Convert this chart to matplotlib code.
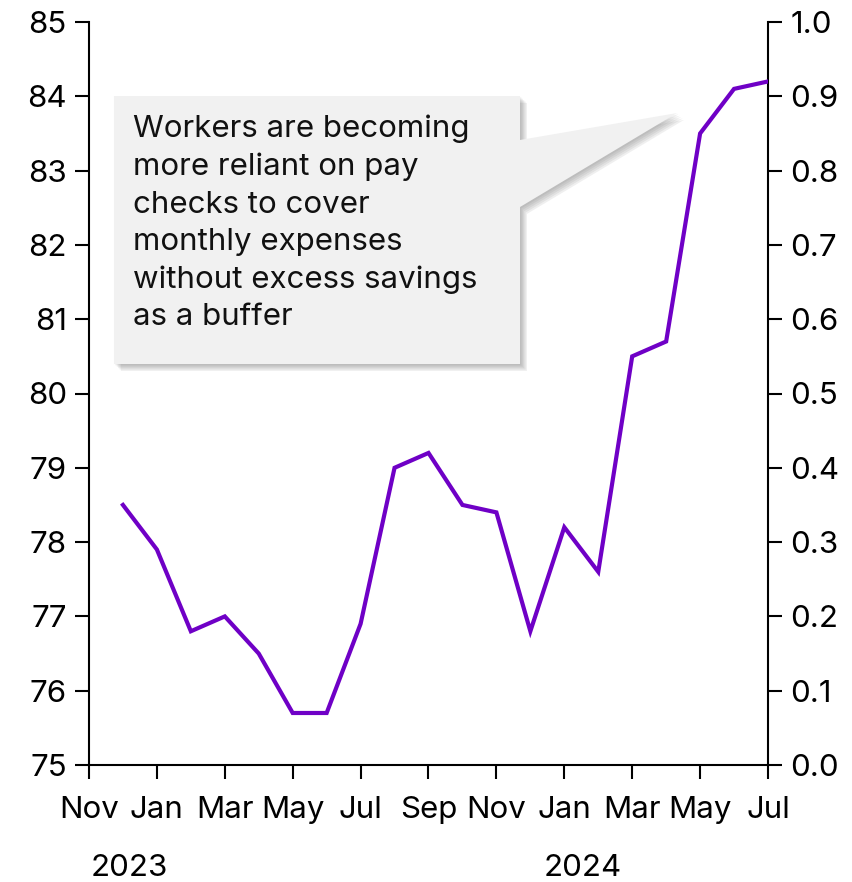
import matplotlib
matplotlib.use('Agg')
import matplotlib.pyplot as plt
import matplotlib.patheffects as pe
from matplotlib.patches import Polygon

plt.rcParams['font.family'] = ['Inter', 'DejaVu Sans']

# months counted from Nov 2022 (0) to Jul 2024 (20)
months = list(range(1, 21))
values = [78.5, 77.9, 76.8, 77.0, 76.5, 75.7, 75.7, 76.9, 79.0, 79.2,
          78.5, 78.4, 76.8, 78.2, 77.6, 80.5, 80.7, 83.5, 84.1, 84.2]
tick_pos = list(range(0, 21, 2))
tick_labels = ['Nov', 'Jan', 'Mar', 'May', 'Jul', 'Sep', 'Nov', 'Jan', 'Mar', 'May', 'Jul']
years = ['2023', '2024']
year_pos = [1.2, 14.55]
note = ('Workers are becoming\nmore reliant on pay\nchecks to cover\n'
        'monthly expenses\nwithout excess savings\nas a buffer')

LINE = '#6f00c6'
FS = 22.5

fig = plt.figure(figsize=(8.53, 8.82), dpi=100)
ax = fig.add_axes([89 / 853, 117 / 882, 679 / 853, 743 / 882])
ax2 = ax.twinx()

ax.plot(months, values, color=LINE, lw=3, solid_joinstyle='miter', zorder=5)
ax.set_xlim(0, 20)
ax.set_ylim(75, 85)
ax.set_yticks(range(75, 86))
ax.set_xticks(tick_pos)
ax.set_xticklabels(tick_labels)
ax2.set_ylim(0, 1)
ax2.set_yticks([i / 10 for i in range(11)])
ax2.set_yticklabels([f'{i / 10:.1f}' for i in range(11)])

for a in (ax, ax2):
    a.spines['top'].set_visible(False)
    for s in a.spines.values():
        s.set_linewidth(1.5)
    a.tick_params(labelsize=FS, width=1.5, length=10, direction='out', pad=6)
ax.tick_params(axis='x', pad=12)
ax2.spines['left'].set_visible(False)
ax2.spines['bottom'].set_visible(False)
ax.spines['right'].set_visible(False)
ax.set_zorder(ax2.get_zorder() + 1)
ax.patch.set_visible(False)

for y, p in zip(years, year_pos):
    ax.text(p, -0.138, y, transform=ax.get_xaxis_transform(), ha='center', va='center',
            fontsize=FS)

# callout box with pointer, in axes fraction
callout = Polygon([(0.0368, 0.9004), (0.6348, 0.9004), (0.6348, 0.8412), (0.866, 0.8775),
                   (0.6348, 0.7510), (0.6348, 0.5397), (0.0368, 0.5397)],
                  closed=True, transform=ax.transAxes, facecolor='#f1f1f1', edgecolor='none',
                  zorder=3)
# soft drop shadow built from a few faint offset copies
shadows = [pe.SimplePatchShadow(offset=(d, -d), shadow_rgbFace='#555555', alpha=0.09)
           for d in (1.0, 2.0, 3.0, 4.0, 5.0)]
callout.set_path_effects(shadows + [pe.Normal()])
ax.add_patch(callout)
ax.text(0.0648, 0.875, note, transform=ax.transAxes, ha='left', va='top', fontsize=FS,
        linespacing=1.42, color='#111111', zorder=4)

fig.savefig('out.png', dpi=100)
